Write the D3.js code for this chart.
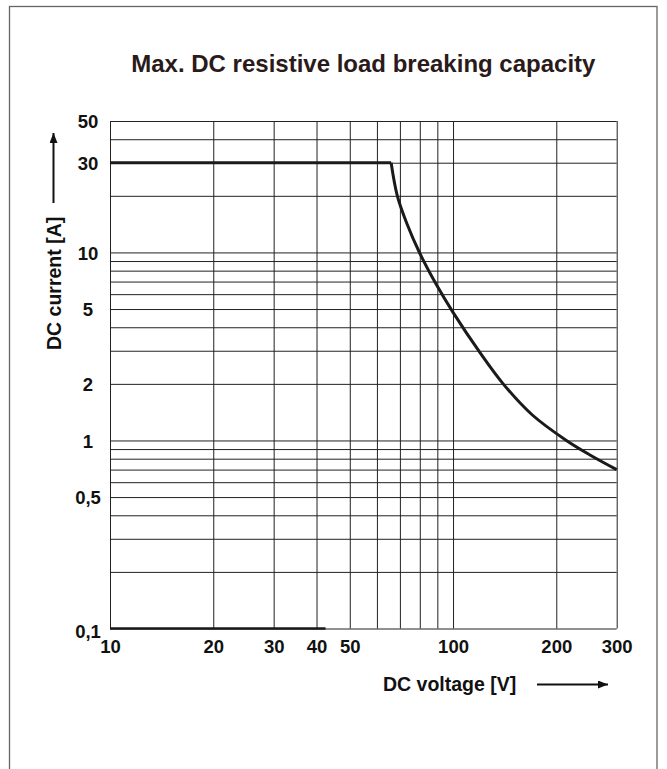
<!DOCTYPE html>
<html>
<head>
<meta charset="utf-8">
<script src="https://cdn.jsdelivr.net/npm/d3@7"></script>
<style>
  body { margin: 0; background: #fff; }
  text { font-family: "Liberation Sans", Arial, sans-serif; font-weight: bold; }
</style>
</head>
<body>
<div id="chart"></div>
<script>
// axis labels
const voltageTicks = [10, 20, 30, 40, 50, 100, 200, 300]
const currentTicks = [50, 30, 10, 5, 2, 1, 0.5, 0.1]
const currentTickLabels = ['50', '30', '10', '5', '2', '1', '0,5', '0,1']

// grid lines
const voltageGrid = [10, 20, 30, 40, 50, 60, 70, 80, 90, 100, 200, 300]
const currentGrid = [0.1, 0.2, 0.3, 0.4, 0.5, 0.6, 0.7, 0.8, 0.9, 1, 2, 3, 4, 5, 6, 7, 8, 9, 10, 20, 30, 40, 50]

// breaking capacity curve
const curveVoltage = [10, 66, 68.8, 73.3, 80, 90, 100, 120, 140, 170, 214, 250, 300]
const curveCurrent = [30, 30, 20, 14.3, 9.9, 6.6, 4.8, 2.92, 2.0, 1.37, 1.0, 0.84, 0.7]

// thick piece on the bottom edge
const baseVoltage = [10, 42.5]
const baseCurrent = [0.1, 0.1]

const width = 667, height = 769
const plotLeft = 110, plotRight = 616.7, plotTop = 121, plotBottom = 628.5

const svg = d3.select('#chart')
  .append('svg')
  .attr('width', width)
  .attr('height', height)

// outer frame
svg.append('rect')
  .attr('x', 9.5)
  .attr('y', 6.5)
  .attr('width', 647.5)
  .attr('height', 800)
  .attr('fill', 'none')
  .attr('stroke', '#666')
  .attr('stroke-width', 1.3)

const x = d3.scaleLog().domain([10, 300]).range([plotLeft, plotRight])
const y = d3.scaleLog().domain([0.1, 50]).range([plotBottom, plotTop])

svg.append('text')
  .attr('x', (plotLeft + plotRight) / 2)
  .attr('y', 72)
  .attr('text-anchor', 'middle')
  .attr('font-size', 24)
  .attr('fill', '#2a1a1a')
  .text('Max. DC resistive load breaking capacity')

// grid via axes with full-length ticks
const xGrid = svg.append('g')
  .attr('transform', `translate(0, ${plotBottom})`)
  .call(d3.axisBottom(x).tickValues(voltageGrid).tickSize(-(plotBottom - plotTop)).tickFormat(''))
xGrid.select('.domain').remove()
xGrid.selectAll('line').attr('stroke', '#222').attr('stroke-width', 1)

const yGrid = svg.append('g')
  .attr('transform', `translate(${plotLeft}, 0)`)
  .call(d3.axisLeft(y).tickValues(currentGrid).tickSize(-(plotRight - plotLeft)).tickFormat(''))
yGrid.select('.domain').remove()
yGrid.selectAll('line').attr('stroke', '#222').attr('stroke-width', 1)

// tick labels
const xAxis = svg.append('g')
  .attr('transform', `translate(0, ${plotBottom})`)
  .call(d3.axisBottom(x).tickValues(voltageTicks).tickSize(0).tickPadding(0).tickFormat(d3.format('d')))
xAxis.select('.domain').remove()
xAxis.selectAll('text')
  .attr('dy', null)
  .attr('y', 24.5)
  .attr('font-size', 18.5)
  .attr('font-family', null)
  .attr('fill', '#111')

const yAxis = svg.append('g')
  .attr('transform', 'translate(88, 0)')
  .call(d3.axisLeft(y).tickValues(currentTicks).tickSize(0).tickPadding(0)
    .tickFormat((d, i) => currentTickLabels[i]))
yAxis.select('.domain').remove()
yAxis.selectAll('text')
  .attr('text-anchor', 'middle')
  .attr('x', 0)
  .attr('dy', '0.36em')
  .attr('font-size', 18.5)
  .attr('font-family', null)
  .attr('fill', '#111')
yAxis.selectAll('.tick').filter(d => d === 0.1).select('text').attr('dy', '0.48em')

// curve: flat part, then the falling part
const flat = curveVoltage.slice(0, 2).map((v, i) => [v, curveCurrent[i]])
const fall = curveVoltage.slice(1).map((v, i) => [v, curveCurrent[i + 1]])

svg.append('path')
  .attr('d', d3.line().x(d => x(d[0])).y(d => y(d[1]))(flat))
  .attr('fill', 'none')
  .attr('stroke', '#1a1a1a')
  .attr('stroke-width', 3)

svg.append('path')
  .attr('d', d3.line().x(d => x(d[0])).y(d => y(d[1])).curve(d3.curveCatmullRom.alpha(0.5))(fall))
  .attr('fill', 'none')
  .attr('stroke', '#1a1a1a')
  .attr('stroke-width', 3)

svg.append('path')
  .attr('d', d3.line().x(d => x(d[0])).y(d => y(d[1]))(baseVoltage.map((v, i) => [v, baseCurrent[i]])))
  .attr('fill', 'none')
  .attr('stroke', '#1a1a1a')
  .attr('stroke-width', 2.5)

// arrow marker
svg.append('defs').append('marker')
  .attr('id', 'arrow')
  .attr('viewBox', '0 0 10 8')
  .attr('refX', 10)
  .attr('refY', 4)
  .attr('markerWidth', 10)
  .attr('markerHeight', 8)
  .attr('markerUnits', 'userSpaceOnUse')
  .attr('orient', 'auto')
  .append('path')
  .attr('d', 'M0,0L10,4L0,8Z')
  .attr('fill', '#111')

// x label + arrow
svg.append('text')
  .attr('x', 383)
  .attr('y', 691)
  .attr('font-size', 19.5)
  .attr('fill', '#111')
  .text('DC voltage [V]')

svg.append('line')
  .attr('x1', 537).attr('x2', 608)
  .attr('y1', 684.5).attr('y2', 684.5)
  .attr('stroke', '#111')
  .attr('stroke-width', 2)
  .attr('marker-end', 'url(#arrow)')

// y label + arrow
svg.append('text')
  .attr('transform', 'translate(61, 350) rotate(-90)')
  .attr('font-size', 19.5)
  .attr('fill', '#111')
  .text('DC current [A]')

svg.append('line')
  .attr('x1', 53.5).attr('x2', 53.5)
  .attr('y1', 203).attr('y2', 133)
  .attr('stroke', '#111')
  .attr('stroke-width', 2)
  .attr('marker-end', 'url(#arrow)')
</script>
</body>
</html>
